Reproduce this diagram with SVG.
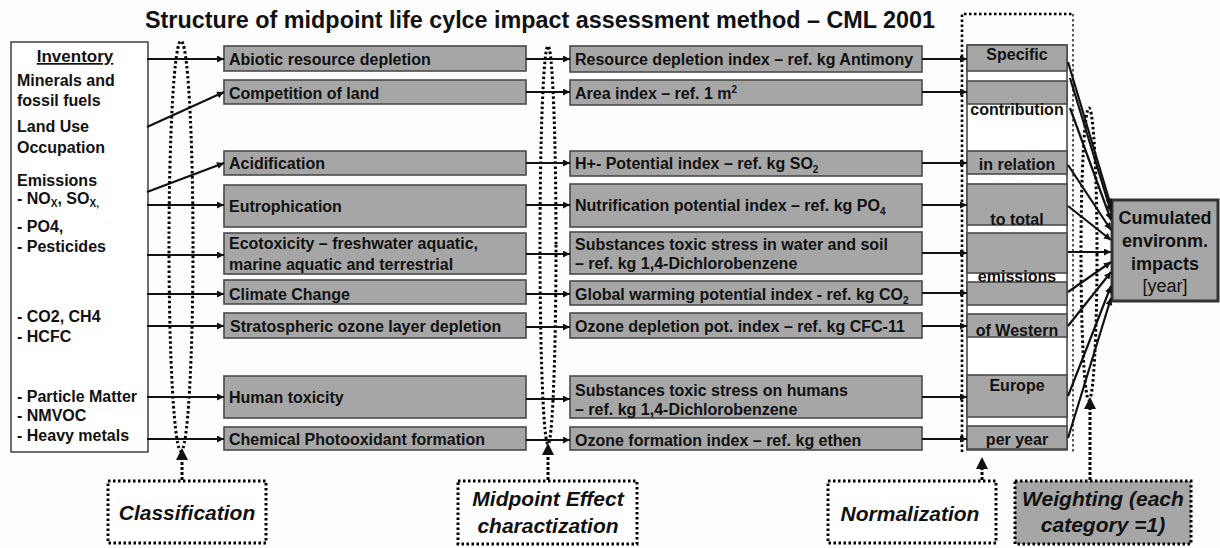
<svg xmlns="http://www.w3.org/2000/svg" width="1220" height="548" viewBox="0 0 1220 548">
<defs>
<style>
.t{font-family:"Liberation Sans",Arial,sans-serif;font-weight:bold;fill:#111}
.s16{font-size:16px}
.box{fill:#a6a6a6;stroke:#4a4a4a;stroke-width:1.6}
.arr{stroke:#111;stroke-width:2.2;fill:none;marker-end:url(#ah)}
.dot{fill:none;stroke:#000;stroke-width:3;stroke-dasharray:2.5 2.5}
.dbox{stroke:#000;stroke-width:3;stroke-dasharray:2.5 2.5}
.lab{font-family:"Liberation Sans",Arial,sans-serif;font-weight:bold;font-style:italic;font-size:21px;fill:#111;text-anchor:middle}
</style>
<marker id="ah" viewBox="0 0 10 10" refX="10" refY="5" markerWidth="8" markerHeight="7" markerUnits="userSpaceOnUse" orient="auto">
<path d="M0,0 L10,5 L0,10 z" fill="#111"/>
</marker>
</defs>
<rect width="1220" height="548" fill="#fdfdfd"/>

<text class="t" x="145" y="28" font-size="23" textLength="790" lengthAdjust="spacingAndGlyphs">Structure of midpoint life cylce impact assessment method – CML 2001</text>

<g id="inventory">
<rect x="11" y="42" width="137" height="410" fill="#fff" stroke="#4a4a4a" stroke-width="1.6"/>
<text class="t" x="75" y="62" font-size="17" text-anchor="middle" text-decoration="underline">Inventory</text>
<text class="t s16" x="17" y="86">Minerals and</text>
<text class="t s16" x="17" y="106">fossil fuels</text>
<text class="t s16" x="17" y="132">Land Use</text>
<text class="t s16" x="17" y="153">Occupation</text>
<text class="t s16" x="17" y="186">Emissions</text>
<text class="t s16" x="17" y="204">- NO<tspan font-size="10" dy="3">X</tspan><tspan dy="-3">, SO</tspan><tspan font-size="10" dy="3">X,</tspan></text>
<text class="t s16" x="17" y="232">- PO4,</text>
<text class="t s16" x="17" y="252">- Pesticides</text>
<text class="t s16" x="17" y="322">- CO2, CH4</text>
<text class="t s16" x="17" y="342">- HCFC</text>
<text class="t s16" x="17" y="402">- Particle Matter</text>
<text class="t s16" x="17" y="421">- NMVOC</text>
<text class="t s16" x="17" y="441">- Heavy metals</text>
</g>

<g id="cat-abiotic"><rect class="box" x="224" y="46" width="302" height="25"/><text class="t s16" x="229" y="65">Abiotic resource depletion</text></g>
<g id="cat-land"><rect class="box" x="224" y="80" width="302" height="24"/><text class="t s16" x="229" y="99">Competition of land</text></g>
<g id="cat-acid"><rect class="box" x="224" y="151" width="302" height="24"/><text class="t s16" x="229" y="169">Acidification</text></g>
<g id="cat-eutro"><rect class="box" x="224" y="185" width="302" height="42"/><text class="t s16" x="229" y="212">Eutrophication</text></g>
<g id="cat-ecotox"><rect class="box" x="224" y="233" width="302" height="41"/><text class="t s16" x="229" y="249">Ecotoxicity – freshwater aquatic,</text><text class="t s16" x="229" y="270">marine aquatic and terrestrial</text></g>
<g id="cat-climate"><rect class="box" x="224" y="280" width="302" height="24"/><text class="t s16" x="229" y="300">Climate Change</text></g>
<g id="cat-ozone"><rect class="box" x="224" y="313" width="302" height="25"/><text class="t s16" x="230" y="332">Stratospheric ozone layer depletion</text></g>
<g id="cat-human"><rect class="box" x="224" y="376" width="302" height="42"/><text class="t s16" x="229" y="403">Human toxicity</text></g>
<g id="cat-photo"><rect class="box" x="224" y="427" width="302" height="23"/><text class="t s16" x="229" y="445">Chemical Photooxidant formation</text></g>

<g id="mid-resource"><rect class="box" x="570" y="46" width="352" height="26"/><text class="t s16" x="575" y="65">Resource depletion index – ref. kg Antimony</text></g>
<g id="mid-area"><rect class="box" x="570" y="80" width="352" height="25"/><text class="t s16" x="575" y="99">Area index – ref. 1 m<tspan font-size="10" dy="-6">2</tspan></text></g>
<g id="mid-h"><rect class="box" x="570" y="151" width="352" height="25"/><text class="t s16" x="575" y="169">H+- Potential index – ref. kg SO<tspan font-size="10" dy="4">2</tspan></text></g>
<g id="mid-nutri"><rect class="box" x="570" y="184" width="352" height="43"/><text class="t s16" x="575" y="211">Nutrification potential index – ref. kg PO<tspan font-size="10" dy="4">4</tspan></text></g>
<g id="mid-water"><rect class="box" x="570" y="232" width="352" height="42"/><text class="t s16" x="575" y="250">Substances toxic stress in water and soil</text><text class="t s16" x="575" y="269">– ref. kg 1,4-Dichlorobenzene</text></g>
<g id="mid-gw"><rect class="box" x="570" y="281" width="352" height="24"/><text class="t s16" x="575" y="300">Global warming potential index - ref. kg CO<tspan font-size="10" dy="4">2</tspan></text></g>
<g id="mid-odp"><rect class="box" x="570" y="313" width="352" height="25"/><text class="t s16" x="575" y="332">Ozone depletion pot. index – ref. kg CFC-11</text></g>
<g id="mid-humans"><rect class="box" x="570" y="376" width="352" height="42"/><text class="t s16" x="575" y="396">Substances toxic stress on humans</text><text class="t s16" x="575" y="415">– ref. kg 1,4-Dichlorobenzene</text></g>
<g id="mid-ozf"><rect class="box" x="570" y="427" width="352" height="23"/><text class="t s16" x="575" y="446">Ozone formation index – ref. kg ethen</text></g>

<g id="normalization-column">
<rect x="967" y="45" width="100" height="405" fill="#fff" stroke="#4a4a4a" stroke-width="1.6"/>
<rect class="box" x="967" y="45" width="100" height="26"/>
<rect class="box" x="967" y="81" width="100" height="23"/>
<rect class="box" x="967" y="151" width="100" height="23"/>
<rect class="box" x="967" y="184" width="100" height="41"/>
<rect class="box" x="967" y="233" width="100" height="40"/>
<rect class="box" x="967" y="282" width="100" height="23"/>
<rect class="box" x="967" y="314" width="100" height="23"/>
<rect class="box" x="967" y="375" width="100" height="42"/>
<rect class="box" x="967" y="426" width="100" height="23"/>
<g class="t s16" text-anchor="middle">
<text x="1017" y="60">Specific</text>
<text x="1017" y="115">contribution</text>
<text x="1017" y="170">in relation</text>
<text x="1017" y="225">to total</text>
<text x="1017" y="282">emissions</text>
<text x="1017" y="336">of Western</text>
<text x="1017" y="391">Europe</text>
<text x="1017" y="445">per year</text>
</g>
<path d="M962,452 L962,14 L1073,14" fill="none" stroke="#000" stroke-width="2.6" stroke-dasharray="2.5 2.5"/>
<path d="M1073,14 L1073,452" fill="none" stroke="#555" stroke-width="2" stroke-dasharray="2.5 2.5"/>
</g>

<g id="cumulated">
<rect x="1112" y="200" width="106" height="101" fill="#a6a6a6" stroke="#333" stroke-width="3"/>
<text class="t" x="1165" y="224" font-size="18" text-anchor="middle">Cumulated</text>
<text class="t" x="1165" y="247" font-size="18" text-anchor="middle">environm.</text>
<text class="t" x="1165" y="270" font-size="18" text-anchor="middle">impacts</text>
<text x="1165" y="292" font-family="Liberation Sans, Arial, sans-serif" font-size="18" text-anchor="middle" fill="#111">[year]</text>
</g>

<g id="classification">
<rect class="dbox" x="108" y="481" width="158" height="62" fill="#fff"/>
<text class="lab" x="187" y="520">Classification</text>
</g>
<g id="midpoint-label">
<rect class="dbox" x="458" y="481" width="179" height="63" fill="#fff"/>
<text class="lab" x="548" y="506">Midpoint Effect</text>
<text class="lab" x="548" y="533">charactization</text>
</g>
<g id="normalization-label">
<rect class="dbox" x="828" y="481" width="168" height="62" fill="#fff"/>
<text class="lab" x="910" y="521">Normalization</text>
</g>
<g id="weighting-label">
<rect class="dbox" x="1015" y="481" width="176" height="63" fill="#a6a6a6"/>
<text class="lab" x="1103" y="506">Weighting (each</text>
<text class="lab" x="1103" y="532">category =1)</text>
</g>

<g id="connectors">
<ellipse class="dot" cx="181" cy="246" rx="12" ry="205"/>
<ellipse class="dot" cx="548" cy="245" rx="8" ry="199"/>
<ellipse class="dot" cx="1089" cy="254" rx="8" ry="146"/>

<path class="arr" d="M147,59 H224"/>
<path class="arr" d="M147,127 L224,92"/>
<path class="arr" d="M147,192 L224,163"/>
<path class="arr" d="M147,205 H224"/>
<path class="arr" d="M147,255 H224"/>
<path class="arr" d="M147,294 H224"/>
<path class="arr" d="M147,326 H224"/>
<path class="arr" d="M147,397 H224"/>
<path class="arr" d="M147,439 H224"/>

<path class="arr" d="M526,59 H570"/>
<path class="arr" d="M526,92 H570"/>
<path class="arr" d="M526,163 H570"/>
<path class="arr" d="M526,205 H570"/>
<path class="arr" d="M526,254 H570"/>
<path class="arr" d="M526,294 H570"/>
<path class="arr" d="M526,327 H570"/>
<path class="arr" d="M526,399 H570"/>
<path class="arr" d="M526,440 H570"/>

<path class="arr" d="M922,59 H967"/>
<path class="arr" d="M922,92 H967"/>
<path class="arr" d="M922,163 H967"/>
<path class="arr" d="M922,205 H967"/>
<path class="arr" d="M922,253 H967"/>
<path class="arr" d="M922,293 H967"/>
<path class="arr" d="M922,326 H967"/>
<path class="arr" d="M922,397 H967"/>
<path class="arr" d="M922,439 H967"/>

<path class="arr" d="M1068,62 L1111,206"/>
<path class="arr" d="M1070,78 L1111,212"/>
<path class="arr" d="M1070,108 L1111,220"/>
<path class="arr" d="M1068,165 L1111,230"/>
<path class="arr" d="M1068,206 L1111,240"/>
<path class="arr" d="M1068,252 H1111"/>
<path class="arr" d="M1068,292 L1111,262"/>
<path class="arr" d="M1068,326 L1111,272"/>
<path class="arr" d="M1068,396 L1111,286"/>
<path class="arr" d="M1068,438 L1111,298"/>

<path d="M182,480 V458" stroke="#000" stroke-width="3" stroke-dasharray="3 2" fill="none"/>
<path d="M176,460 L182,448 L188,460 z" fill="#111"/>
<path d="M548,480 V455" stroke="#000" stroke-width="3" stroke-dasharray="3 2" fill="none"/>
<path d="M542,455 L548,443 L554,455 z" fill="#111"/>
<path d="M982,480 V468" stroke="#000" stroke-width="3" stroke-dasharray="3 2" fill="none"/>
<path d="M976,469 L982,457 L988,469 z" fill="#111"/>
<path d="M1090,480 V408" stroke="#000" stroke-width="3" stroke-dasharray="3 2" fill="none"/>
<path d="M1084,409 L1090,397 L1096,409 z" fill="#111"/>
</g>
</svg>
